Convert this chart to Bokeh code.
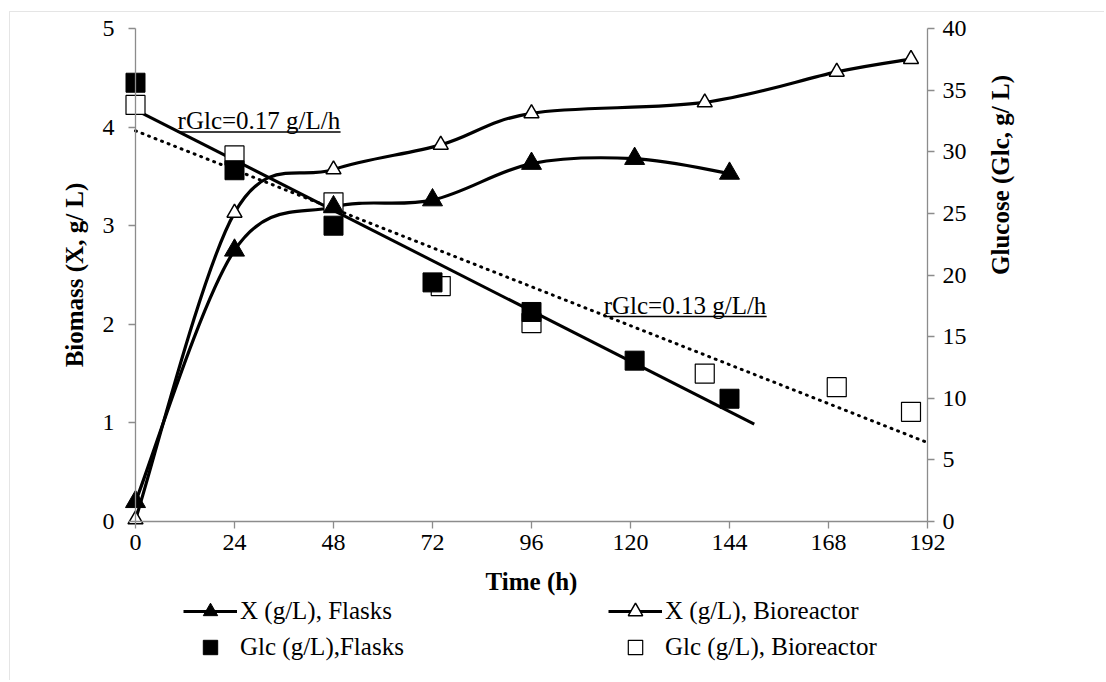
import math
from bokeh.plotting import figure
from bokeh.models import (Range1d, LinearAxis, FixedTicker, Legend, LegendItem,
                          Label, BoxAnnotation)
from bokeh.embed import file_html
from bokeh.resources import INLINE

# ---------------- data ----------------
t_x_flask = [0, 24, 48, 72, 96, 121, 144]
x_flask = [0.2, 2.75, 3.19, 3.26, 3.63, 3.68, 3.53]

t_x_bio = [0, 24, 48, 74, 96, 138, 170, 188]
x_bio = [0.02, 3.13, 3.57, 3.82, 4.14, 4.25, 4.56, 4.69]

t_glc_flask = [0, 24, 48, 72, 96, 121, 144]
glc_flask = [35.6, 28.5, 24.0, 19.4, 17.0, 13.05, 9.96]

t_glc_bio = [0, 24, 48, 74, 96, 138, 170, 188]
glc_bio = [33.8, 29.7, 25.9, 19.1, 16.1, 12.0, 10.9, 8.9]

trend_flask_t = [0, 150]
trend_flask_glc = [33.4, 7.9]
trend_bio_t = [0, 192]
trend_bio_glc = [31.7, 6.4]

x_ticks = [0, 24, 48, 72, 96, 120, 144, 168, 192]
left_ticks = [0, 1, 2, 3, 4, 5]
right_ticks = [0, 5, 10, 15, 20, 25, 30, 35, 40]

ann1_text = "rGlc=0.17 g/L/h"
ann2_text = "rGlc=0.13 g/L/h"

FONT = "Liberation Serif"
AX = "#8c8c8c"

# ---------------- layout geometry (pixels) ----------------
W, H = 1104, 680
LEFT_PX, RIGHT_PX, TOP_PX, BOTTOM_PX = 135, 927, 28, 521
X_MAX, Y_MAX, G_MAX = x_ticks[-1], left_ticks[-1], right_ticks[-1]
SX = (RIGHT_PX - LEFT_PX) / X_MAX
SY = (BOTTOM_PX - TOP_PX) / Y_MAX
SG = (BOTTOM_PX - TOP_PX) / G_MAX
x_lo, x_hi = -LEFT_PX / SX, X_MAX + (W - RIGHT_PX) / SX
y_lo, y_hi = -(H - BOTTOM_PX) / SY, Y_MAX + TOP_PX / SY
g_lo, g_hi = -(H - BOTTOM_PX) / SG, G_MAX + TOP_PX / SG

p = figure(width=W, height=H, output_backend="svg", toolbar_location=None,
           x_range=Range1d(x_lo, x_hi), y_range=Range1d(y_lo, y_hi),
           min_border_left=0, min_border_right=0, min_border_top=0,
           min_border_bottom=0)
p.title.visible = False
p.extra_y_ranges = {"glc": Range1d(g_lo, g_hi)}
p.outline_line_color = None
p.grid.visible = False

def style_axis(ax, label, standoff, lab_standoff):
    ax.axis_label = label
    ax.axis_label_text_font = FONT
    ax.axis_label_text_font_style = "bold"
    ax.axis_label_text_font_size = "25px"
    ax.axis_label_text_color = "black"
    ax.axis_label_standoff = lab_standoff
    ax.major_label_text_font = FONT
    ax.major_label_text_font_size = "24px"
    ax.major_label_text_color = "black"
    ax.major_label_standoff = standoff
    ax.axis_line_color = AX
    ax.axis_line_width = 1.3
    ax.major_tick_line_color = AX
    ax.major_tick_line_width = 1.3
    ax.major_tick_out = 7
    ax.major_tick_in = 0
    ax.minor_tick_line_color = None

xa = p.xaxis[0]
xa.ticker = FixedTicker(ticks=x_ticks)
xa.fixed_location = 0
xa.bounds = (0, X_MAX)
style_axis(xa, "Time (h)", 6, 15)

ya = p.yaxis[0]
ya.ticker = FixedTicker(ticks=left_ticks)
ya.fixed_location = 0
ya.bounds = (0, Y_MAX)
style_axis(ya, "Biomass (X, g/ L)", 14, 12)

raxis = LinearAxis(y_range_name="glc", ticker=FixedTicker(ticks=right_ticks),
                   fixed_location=X_MAX, bounds=(0, G_MAX))
style_axis(raxis, "Glucose (Glc, g/ L)", 8, 31)
raxis.axis_label_orientation = math.pi / 2
p.add_layout(raxis, "right")

# outer chart-area border (left and top edges visible)
p.add_layout(BoxAnnotation(left=x_lo + 9 / SX, top=y_hi - 11 / SY,
                           right=x_hi + 50, bottom=y_lo - 5,
                           fill_alpha=0, line_color="#a8a8a8", line_width=1))

# ---------------- smoothing (Excel-like bezier, computed in pixel space) ----------------
def smooth(xs, ys, sy):
    px = [x * SX for x in xs]
    py = [y * sy for y in ys]
    n = len(px)
    out = dict(x0=[], y0=[], x1=[], y1=[], cx0=[], cy0=[], cx1=[], cy1=[])
    for i in range(n - 1):
        i0 = i - 1 if i > 0 else i
        i3 = i + 2 if i + 2 < n else i + 1
        c1x = px[i] + (px[i + 1] - px[i0]) / 6
        c1y = py[i] + (py[i + 1] - py[i0]) / 6
        c2x = px[i + 1] - (px[i3] - px[i]) / 6
        c2y = py[i + 1] - (py[i3] - py[i]) / 6
        out["x0"].append(xs[i]); out["y0"].append(ys[i])
        out["x1"].append(xs[i + 1]); out["y1"].append(ys[i + 1])
        out["cx0"].append(c1x / SX); out["cy0"].append(c1y / sy)
        out["cx1"].append(c2x / SX); out["cy1"].append(c2y / sy)
    return out

# trend lines
p.line(trend_bio_t, trend_bio_glc, y_range_name="glc", line_color="black",
       line_width=3, line_dash="1 6", line_cap="round")
p.line(trend_flask_t, trend_flask_glc, y_range_name="glc", line_color="black",
       line_width=3)

# smooth curves
bz_b = p.bezier(line_color="black", line_width=3.2, **smooth(t_x_bio, x_bio, SY))
bz_f = p.bezier(line_color="black", line_width=3.2, **smooth(t_x_flask, x_flask, SY))

# markers
r_gb = p.scatter(t_glc_bio, glc_bio, y_range_name="glc", marker="square", size=19,
                 fill_color="white", line_color="black", line_width=1.2)
r_gf = p.scatter(t_glc_flask, glc_flask, y_range_name="glc", marker="square", size=19,
                 fill_color="black", line_color="black")
r_xb = p.scatter(t_x_bio, x_bio, marker="triangle", size=15,
                 fill_color="white", line_color="black", line_width=1.5)
r_xf = p.scatter(t_x_flask, x_flask, marker="triangle", size=20,
                 fill_color="black", line_color="black")

# annotations (text position, underline position, underline width in px)
annotations = [(ann1_text, 10.2, 32.5, 31.6, 163), (ann2_text, 113.5, 17.5, 16.63, 163)]
for txt, tx, ty, uy, tw in annotations:
    p.add_layout(Label(x=tx, y=ty, y_range_name="glc", text=txt, text_font=FONT,
                       text_font_size="25px", text_color="black",
                       text_baseline="alphabetic"))
    p.segment(x0=[tx], y0=[uy], x1=[tx + tw / SX], y1=[uy],
              y_range_name="glc", line_color="black", line_width=1.6)

legend = Legend(items=[
    LegendItem(label="X (g/L), Flasks", renderers=[bz_f, r_xf]),
    LegendItem(label="X (g/L), Bioreactor", renderers=[bz_b, r_xb]),
    LegendItem(label="Glc (g/L),Flasks", renderers=[r_gf]),
    LegendItem(label="Glc (g/L), Bioreactor", renderers=[r_gb]),
], location=(183, 15), orientation="horizontal", ncols=2)
legend.glyph_width = 54
legend.glyph_height = 36
legend.label_height = 36
legend.label_standoff = 3
legend.label_width = 368
legend.spacing = 0
legend.padding = 0
legend.margin = 0
legend.label_text_font = FONT
legend.label_text_font_size = "25px"
legend.label_text_color = "black"
legend.background_fill_alpha = 0
legend.border_line_color = None
p.add_layout(legend, "center")

open("out.html", "w").write(file_html(p, INLINE))
